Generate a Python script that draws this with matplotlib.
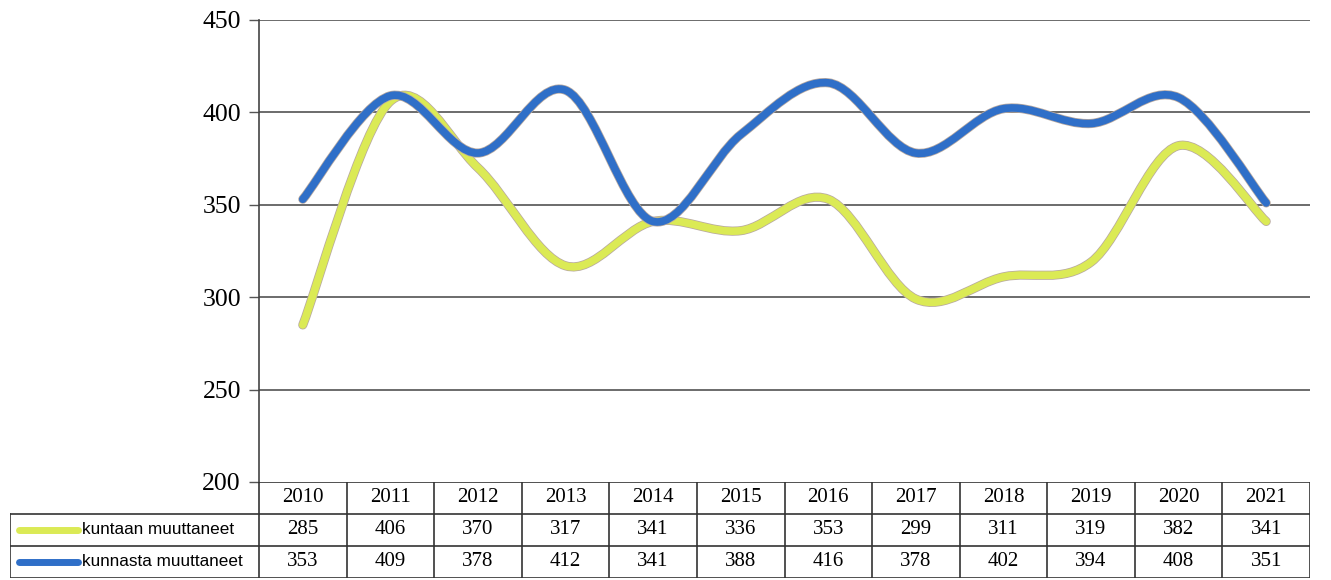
import matplotlib
matplotlib.use("Agg")
import matplotlib.pyplot as plt
from matplotlib.path import Path
from matplotlib.patches import PathPatch
import numpy as np

years = ["2010", "2011", "2012", "2013", "2014", "2015",
         "2016", "2017", "2018", "2019", "2020", "2021"]
kuntaan = [285, 406, 370, 317, 341, 336, 353, 299, 311, 319, 382, 341]
kunnasta = [353, 409, 378, 412, 341, 388, 416, 378, 402, 394, 408, 351]
series_names = ["kuntaan muuttaneet", "kunnasta muuttaneet"]
colors = ["#dbea55", "#2f6fc8"]

plt.rcParams['font.family'] = ['Liberation Serif', 'DejaVu Serif']

W, H = 1331, 580
fig = plt.figure(figsize=(W / 100, H / 100), dpi=100)

# plot area in pixels: x 259..1310, y 20..482
ax = fig.add_axes([259 / W, (H - 482) / H, (1310 - 259) / W, 462 / H])
ax.set_xlim(0, 12)
ax.set_ylim(200, 450)
ax.set_yticks([200, 250, 300, 350, 400, 450])
ax.set_xticks([])
ax.tick_params(axis='y', length=7, width=1, color='#555555', labelsize=18.5, pad=6)
for s in ['top', 'right', 'bottom']:
    ax.spines[s].set_visible(False)
ax.spines['left'].set_color('#444444')
ax.spines['left'].set_linewidth(1.2)
for v in [250, 300, 350, 400, 450]:
    ax.axhline(v, color='#444444', lw=1.1, zorder=1)


def smooth_path(xs, ys):
    # excel style smoothed line: bezier segments through every point
    pts = np.column_stack([xs, ys]).astype(float)
    verts = [pts[0]]
    codes = [Path.MOVETO]
    n = len(pts)
    for i in range(n - 1):
        p0 = pts[i - 1] if i > 0 else pts[i]
        p1 = pts[i]
        p2 = pts[i + 1]
        p3 = pts[i + 2] if i + 2 < n else pts[i + 1]
        c1 = p1 + (p2 - p0) / 6
        c2 = p2 - (p3 - p1) / 6
        verts += [c1, c2, p2]
        codes += [Path.CURVE4] * 3
    return Path(verts, codes)


xpos = np.arange(len(years)) + 0.5
for vals, col, z in [(kuntaan, colors[0], 3), (kunnasta, colors[1], 4)]:
    path = smooth_path(xpos, vals)
    ax.add_patch(PathPatch(path, fill=False, edgecolor='#b8a9a0', lw=6.6,
                           capstyle='round', zorder=z))
    ax.add_patch(PathPatch(path, fill=False, edgecolor=col, lw=5.5,
                           capstyle='round', zorder=z))

# data table below the plot
label_w = (259 - 10) / ((1310 - 259) / 12)
tax = fig.add_axes([10 / W, 2 / H, 1300 / W, 480 / H * 0.2])
tax.set_xlim(-label_w, 12)
tax.set_ylim(0, 3)
tax.axis('off')
lc = '#333333'
tax.plot([0, 12], [3, 3], color=lc, lw=1.2)
tax.plot([-label_w, 12], [2, 2], color=lc, lw=1.2)
tax.plot([-label_w, 12], [1, 1], color=lc, lw=1.2)
tax.plot([-label_w, 12], [0, 0], color=lc, lw=1.2)
tax.plot([-label_w, -label_w], [0, 2], color=lc, lw=1.2)
for i in range(13):
    tax.plot([i, i], [0, 3], color=lc, lw=1.2)

for i, y in enumerate(years):
    tax.text(i + 0.5, 2.5, y, ha='center', va='center', fontsize=15)
    tax.text(i + 0.5, 1.5, str(kuntaan[i]), ha='center', va='center', fontsize=15)
    tax.text(i + 0.5, 0.5, str(kunnasta[i]), ha='center', va='center', fontsize=15)

for row, (name, col) in enumerate(zip(series_names, colors)):
    yc = 1.5 - row
    tax.plot([-label_w + 0.1, -label_w + 0.78], [yc, yc], color=col, lw=5,
             solid_capstyle='round')
    tax.text(-label_w + 0.82, yc, name, ha='left', va='center', fontsize=12.3,
             family=['Liberation Sans', 'DejaVu Sans'])

fig.savefig("out.png", dpi=100)
